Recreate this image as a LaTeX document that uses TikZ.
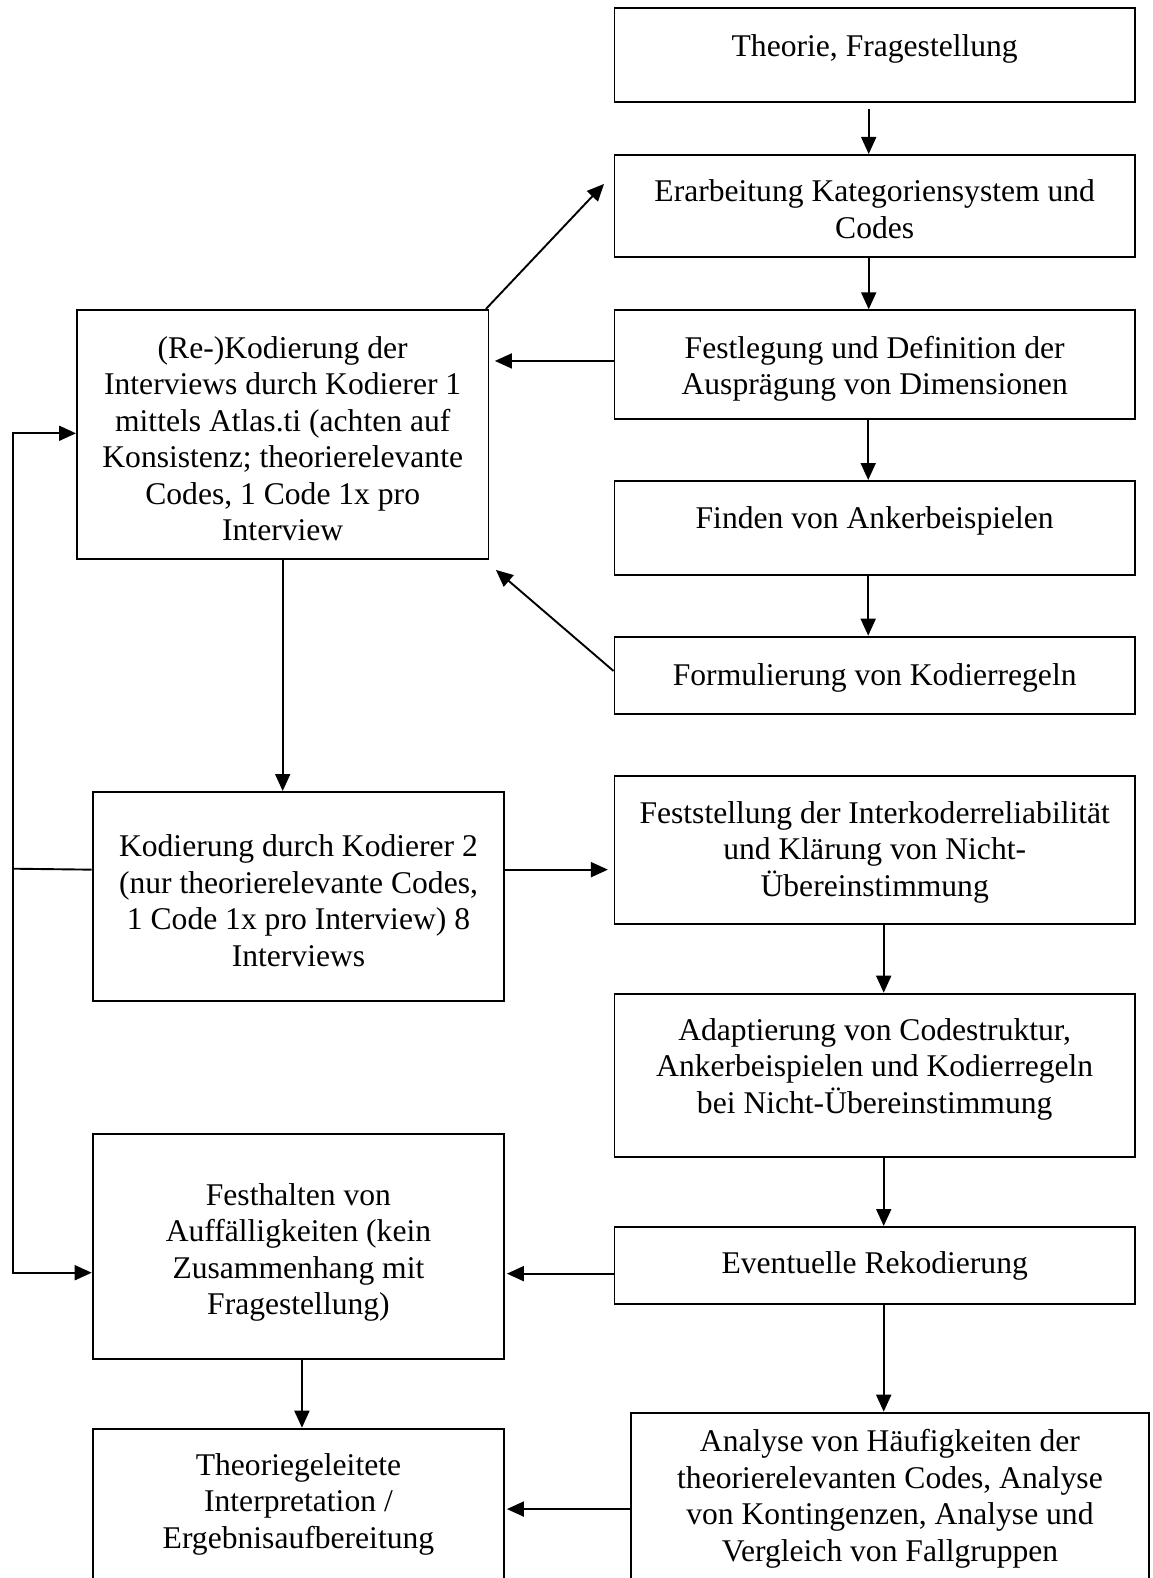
\documentclass[tikz,border=0pt]{standalone}
\usepackage{fontspec}
\setmainfont{Liberation Serif}
\usetikzlibrary{arrows.meta,calc}
\begin{document}
\begin{tikzpicture}[x=1pt,y=-1pt,
  box/.style={draw, line width=1.9pt, inner sep=0pt, anchor=north west},
  txt/.style={anchor=base, align=center, inner sep=0pt, font=\fontsize{31.6}{36.5}\selectfont},
  arr/.style={line width=1.9pt, -{Triangle[length=17pt,width=15pt]}},
  ln/.style={line width=1.9pt, line join=miter}]
\useasboundingbox (0,0) rectangle (1152,1578);
\clip (0,0) rectangle (1152,1578);
% boxes
\node[box, minimum width=520.5, minimum height=93.7]  (theo) at (613.5,7.3) {};
\node[box, minimum width=520.5, minimum height=102]   (erar) at (613.5,154) {};
\node[box, minimum width=520.5, minimum height=108.4] (fest) at (613.5,309.3) {};
\node[box, minimum width=520.5, minimum height=93.7]  (find) at (613.5,480) {};
\node[box, minimum width=520.5, minimum height=77.6]  (form) at (613.5,635.7) {};
\node[box, minimum width=411.5, minimum height=249]   (reko) at (76,309) {};
\node[box, minimum width=411.7, minimum height=209]   (kod2) at (91.7,791) {};
\node[box, minimum width=520.5, minimum height=147.7] (feststel) at (613.5,775) {};
\node[box, minimum width=520.5, minimum height=163.3] (adapt) at (613.5,992.7) {};
\node[box, minimum width=520.5, minimum height=77]    (event) at (613.5,1226) {};
\node[box, minimum width=411.6, minimum height=224.7] (festh) at (91.7,1133) {};
\node[box, minimum width=411.6, minimum height=170]   (theog) at (91.7,1427.7) {};
\node[box, minimum width=518, minimum height=188]     (anal) at (630,1411.7) {};
% texts (anchor = baseline of last line)
\node[txt] (theo-t) at ($(theo.north)+(0,49.7)$) {Theorie, Fragestellung};
\node[txt] (erar-t) at ($(erar.north)+(0,47.7+36.5)$) {Erarbeitung Kategoriensystem und\\Codes};
\node[txt] (fest-t) at ($(fest.north)+(0,49+36.5)$) {Festlegung und Definition der\\Ausprägung von Dimensionen};
\node[txt] (find-t) at ($(find.north)+(0,48.3)$) {Finden von Ankerbeispielen};
\node[txt] (form-t) at ($(form.north)+(0,49.3)$) {Formulierung von Kodierregeln};
\node[txt] (reko-t) at ($(reko.north)+(0,49.3+5*36.5)$) {(Re-)Kodierung der\\Interviews durch Kodierer 1\\mittels Atlas.ti (achten auf\\Konsistenz; theorierelevante\\Codes, 1 Code 1x pro\\Interview};
\node[txt] (kod2-t) at ($(kod2.north)+(0,65.7+3*36.5)$) {Kodierung durch Kodierer 2\\(nur theorierelevante Codes,\\1 Code 1x pro Interview) 8\\Interviews};
\node[txt] (feststel-t) at ($(feststel.north)+(0,48.3+2*36.5)$) {Feststellung der Interkoderreliabilität\\und Klärung von Nicht-\\Übereinstimmung};
\node[txt] (adapt-t) at ($(adapt.north)+(0,47.3+2*36.5)$) {Adaptierung von Codestruktur,\\Ankerbeispielen und Kodierregeln\\bei Nicht-Übereinstimmung};
\node[txt] (event-t) at ($(event.north)+(0,47)$) {Eventuelle Rekodierung};
\node[txt] (festh-t) at ($(festh.north)+(0,72+3*36.5)$) {Festhalten von\\Auffälligkeiten (kein\\Zusammenhang mit\\Fragestellung)};
\node[txt] (theog-t) at ($(theog.north)+(0,47.3+2*36.5)$) {Theoriegeleitete\\Interpretation /\\Ergebnisaufbereitung};
\node[txt] (anal-t) at ($(anal.north)+(0,40+3*36.5)$) {Analyse von Häufigkeiten der\\theorierelevanten Codes, Analyse\\von Kontingenzen, Analyse und\\Vergleich von Fallgruppen};
% right column arrows
\draw[arr] ($(theo.south)+(-6,6)$) -- ($(erar.north)+(-6,0)$);
\draw[arr] ($(erar.south)+(-6,0)$) -- ($(fest.north)+(-6,0)$);
\draw[arr] ($(fest.south)+(-6.5,0)$) -- ($(find.north)+(-6.5,0)$);
\draw[arr] ($(find.south)+(-6.5,0)$) -- ($(form.north)+(-6.5,0)$);
\draw[arr] ($(feststel.south)+(9,0)$) -- ($(adapt.north)+(9,0)$);
\draw[arr] ($(adapt.south)+(9,0)$) -- ($(event.north)+(9,0)$);
\draw[arr] ($(event.south)+(9,0)$) -- ($(event.south |- anal.north)+(9,0)$);
% cross arrows
\draw[arr] ($(fest.west)+(0,-3.5)$) -- ($(fest.west -| reko.east)+(5.5,-3.5)$);
\draw[arr] ($(reko.north east)+(-3.5,0)$) -- ($(erar.west)+(-9.5,-22)$);
\draw[arr] ($(form.west)+(0,-4.5)$) -- ($(reko.south east)+(6.5,10)$);
\draw[arr] (reko.south) -- (reko.south |- kod2.north);
\coordinate (k2r) at ($(kod2.east)+(0,-26.8)$);
\draw[arr] (k2r) -- ($(k2r -| feststel.west)+(-5.6,0)$);
\draw[arr] ($(event.west)+(0,8.2)$) -- ($(event.west -| festh.east)+(1.7,8.2)$);
\draw[arr] ($(festh.south)+(3.5,0)$) -- ($(festh.south |- theog.north)+(3.5,0)$);
\draw[arr] ($(anal.west)+(0,2.4)$) -- ($(anal.west -| theog.east)+(1.7,2.4)$);
% feedback loop
\coordinate (loopmid) at (12.7,868.7);
\coordinate (lt) at (12.7,433.3);
\coordinate (lb) at (12.7,1272.7);
\draw[ln] ($(kod2.west)+(0,-26.8)$) -- (loopmid);
\draw[arr] (loopmid) -- (lt) -- (lt -| reko.west);
\draw[arr] (loopmid) -- (lb) -- (lb -| festh.west);
\end{tikzpicture}
\end{document}
